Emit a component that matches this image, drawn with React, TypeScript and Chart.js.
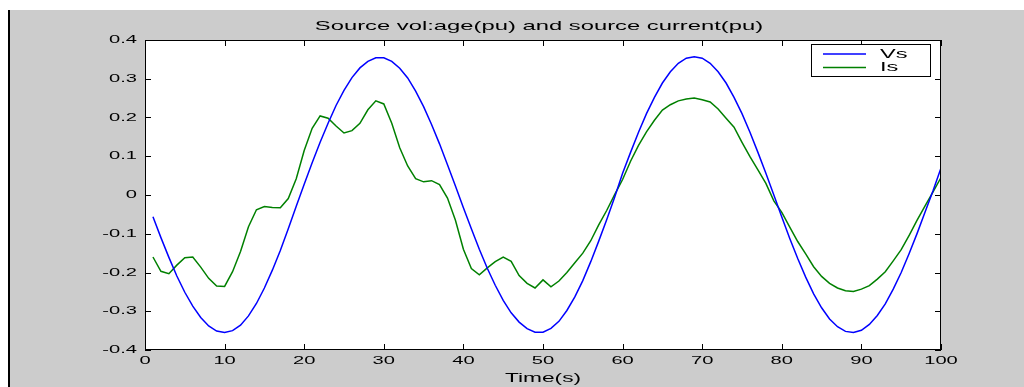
import React, { useEffect, useRef } from "react";
import { Chart, registerables } from "chart.js";

Chart.register(...registerables);

const titleText = "Source vol:age(pu) and source current(pu)";
const xAxisLabel = "Time(s)";
const seriesLabels = ["Vs", "Is"];
const seriesColors = ["#0000ff", "#008000"];

const timeValues = [
  1, 2, 3, 4, 5, 6, 7, 8, 9, 10,
  11, 12, 13, 14, 15, 16, 17, 18, 19, 20,
  21, 22, 23, 24, 25, 26, 27, 28, 29, 30,
  31, 32, 33, 34, 35, 36, 37, 38, 39, 40,
  41, 42, 43, 44, 45, 46, 47, 48, 49, 50,
  51, 52, 53, 54, 55, 56, 57, 58, 59, 60,
  61, 62, 63, 64, 65, 66, 67, 68, 69, 70,
  71, 72, 73, 74, 75, 76, 77, 78, 79, 80,
  81, 82, 83, 84, 85, 86, 87, 88, 89, 90,
  91, 92, 93, 94, 95, 96, 97, 98, 99, 100,
];

const vsValues = [
  -0.056, -0.110, -0.161, -0.209, -0.251, -0.287, -0.316, -0.338, -0.351, -0.355,
  -0.350, -0.336, -0.312, -0.280, -0.240, -0.194, -0.143, -0.087, -0.029, 0.028,
  0.083, 0.136, 0.185, 0.231, 0.270, 0.303, 0.328, 0.345, 0.354, 0.354,
  0.345, 0.327, 0.302, 0.268, 0.228, 0.182, 0.132, 0.078, 0.023, -0.033,
  -0.087, -0.140, -0.189, -0.233, -0.272, -0.304, -0.328, -0.345, -0.354, -0.354,
  -0.344, -0.326, -0.298, -0.263, -0.221, -0.172, -0.119, -0.064, -0.006, 0.056,
  0.110, 0.162, 0.210, 0.252, 0.289, 0.318, 0.340, 0.353, 0.357, 0.353,
  0.340, 0.318, 0.289, 0.252, 0.210, 0.162, 0.110, 0.056, 0.000, -0.057,
  -0.112, -0.164, -0.212, -0.255, -0.291, -0.320, -0.340, -0.352, -0.355, -0.349,
  -0.334, -0.311, -0.281, -0.243, -0.200, -0.151, -0.099, -0.044, 0.011, 0.070,
];

const isValues = [
  -0.160, -0.197, -0.203, -0.181, -0.162, -0.160, -0.186, -0.215, -0.235, -0.236,
  -0.198, -0.146, -0.082, -0.038, -0.030, -0.032, -0.033, -0.009, 0.042, 0.115,
  0.172, 0.204, 0.198, 0.178, 0.160, 0.166, 0.185, 0.220, 0.243, 0.235,
  0.185, 0.122, 0.075, 0.042, 0.034, 0.037, 0.027, -0.008, -0.065, -0.140,
  -0.190, -0.206, -0.188, -0.172, -0.160, -0.171, -0.208, -0.228, -0.240, -0.219,
  -0.237, -0.222, -0.200, -0.175, -0.150, -0.118, -0.077, -0.040, 0.001, 0.040,
  0.087, 0.128, 0.163, 0.193, 0.219, 0.233, 0.243, 0.248, 0.250, 0.246,
  0.240, 0.222, 0.198, 0.175, 0.136, 0.099, 0.065, 0.030, -0.015, -0.045,
  -0.083, -0.120, -0.152, -0.185, -0.210, -0.228, -0.240, -0.247, -0.249, -0.243,
  -0.234, -0.217, -0.198, -0.170, -0.141, -0.104, -0.065, -0.028, 0.008, 0.045,
];

const FONT = "'Liberation Sans', Arial, sans-serif";
const TEXT_STRETCH = 1.75;

// The reference figure is horizontally stretched; widen glyphs about their anchor point.
function installTextStretch(ctx: any) {
  if (ctx.__stretchInstalled) return;
  const orig = ctx.fillText;
  ctx.fillText = function (text: string, x: number, y: number) {
    this.save();
    this.translate(x, y);
    this.scale(TEXT_STRETCH, 1);
    orig.call(this, text, 0, 0);
    this.restore();
  };
  ctx.__stretchInstalled = true;
}

const matlabFrame = {
  id: "matlabFrame",
  beforeDraw(chart: any) {
    const { ctx, width, height, chartArea: a } = chart;
    installTextStretch(ctx);
    ctx.save();
    ctx.fillStyle = "#ffffff";
    ctx.fillRect(0, 0, width, height);
    ctx.fillStyle = "#cccccc";
    ctx.fillRect(8, 10, width - 8, height - 10);
    ctx.fillStyle = "#000000";
    ctx.fillRect(8, 10, 2, height - 10);
    ctx.fillStyle = "#ffffff";
    ctx.fillRect(a.left, a.top, a.right - a.left, a.bottom - a.top);
    ctx.restore();
  },
  afterDraw(chart: any) {
    const { ctx, chartArea: a } = chart;
    const xs = chart.scales.x;
    const ys = chart.scales.y;
    const tl = 6;
    ctx.save();
    ctx.strokeStyle = "#000000";
    ctx.lineWidth = 1;
    ctx.strokeRect(a.left + 0.5, a.top + 0.5, a.right - a.left - 1, a.bottom - a.top - 1);
    ctx.beginPath();
    xs.ticks.forEach((t: any) => {
      const px = Math.round(xs.getPixelForValue(t.value)) + 0.5;
      ctx.moveTo(px, a.bottom);
      ctx.lineTo(px, a.bottom - tl);
      ctx.moveTo(px, a.top);
      ctx.lineTo(px, a.top + tl);
    });
    ys.ticks.forEach((t: any) => {
      const py = Math.round(ys.getPixelForValue(t.value)) + 0.5;
      ctx.moveTo(a.left, py);
      ctx.lineTo(a.left + tl, py);
      ctx.moveTo(a.right, py);
      ctx.lineTo(a.right - tl, py);
    });
    ctx.stroke();

    // title
    ctx.font = `13.6px ${FONT}`;
    ctx.fillStyle = "#000000";
    ctx.textAlign = "center";
    ctx.textBaseline = "middle";
    ctx.fillText(titleText, (a.left + a.right) / 2 - 4, 26);

    // legend
    const bx = a.right - 130;
    const by = a.top + 4;
    const bw = 119;
    const bh = 32;
    ctx.fillStyle = "#ffffff";
    ctx.fillRect(bx, by, bw, bh);
    ctx.strokeStyle = "#000000";
    ctx.lineWidth = 1;
    ctx.strokeRect(bx + 0.5, by + 0.5, bw, bh);
    ctx.font = `13.5px ${FONT}`;
    chart.data.datasets.forEach((ds: any, i: number) => {
      const ly = by + 10 + i * 13.5;
      ctx.strokeStyle = ds.borderColor;
      ctx.lineWidth = 1.5;
      ctx.beginPath();
      ctx.moveTo(bx + 12, ly);
      ctx.lineTo(bx + 55, ly);
      ctx.stroke();
      ctx.fillStyle = "#000000";
      ctx.textAlign = "left";
      ctx.fillText(ds.label, bx + 69, ly);
    });
    ctx.restore();
  },
};

export default function App() {
  const ref = useRef<HTMLCanvasElement | null>(null);

  useEffect(() => {
    if (!ref.current) return;
    const chart = new Chart(ref.current, {
      type: "line",
      data: {
        datasets: [
          {
            label: seriesLabels[0],
            data: timeValues.map((t, i) => ({ x: t, y: vsValues[i] })),
            borderColor: seriesColors[0],
            backgroundColor: seriesColors[0],
            borderWidth: 1.5,
            pointRadius: 0,
            tension: 0,
          },
          {
            label: seriesLabels[1],
            data: timeValues.map((t, i) => ({ x: t, y: isValues[i] })),
            borderColor: seriesColors[1],
            backgroundColor: seriesColors[1],
            borderWidth: 1.5,
            pointRadius: 0,
            tension: 0,
          },
        ],
      },
      options: {
        responsive: false,
        devicePixelRatio: 1,
        animation: false,
        layout: { padding: { left: 0, right: 83, top: 40, bottom: 0 } },
        plugins: {
          legend: { display: false },
          title: { display: false },
          tooltip: { enabled: false },
        },
        scales: {
          x: {
            type: "linear",
            min: 0,
            max: 100,
            grid: { display: false, drawTicks: false, drawOnChartArea: false },
            border: { display: false },
            ticks: {
              stepSize: 10,
              color: "#000000",
              font: { family: FONT, size: 11.5 },
              padding: 4,
              maxRotation: 0,
            },
            title: {
              display: true,
              text: xAxisLabel,
              color: "#000000",
              font: { family: FONT, size: 13 },
              padding: { top: 0, bottom: 1 },
            },
            afterFit: (s: any) => {
              s.height = 37;
            },
          },
          y: {
            min: -0.4,
            max: 0.4,
            grid: { display: false, drawTicks: false, drawOnChartArea: false },
            border: { display: false },
            ticks: {
              stepSize: 0.1,
              color: "#000000",
              font: { family: FONT, size: 11.5 },
              padding: 8,
              callback: (v: any) => {
                const n = Math.round(Number(v) * 10) / 10;
                return n === 0 ? "0" : n.toFixed(1);
              },
            },
            afterFit: (s: any) => {
              s.width = 145;
            },
          },
        },
      },
      plugins: [matlabFrame],
    });
    return () => chart.destroy();
  }, []);

  return (
    <div style={{ position: "absolute", left: 0, top: 0, width: 1024, height: 387 }}>
      <canvas ref={ref} width={1024} height={387} style={{ display: "block", width: 1024, height: 387 }} />
    </div>
  );
}
